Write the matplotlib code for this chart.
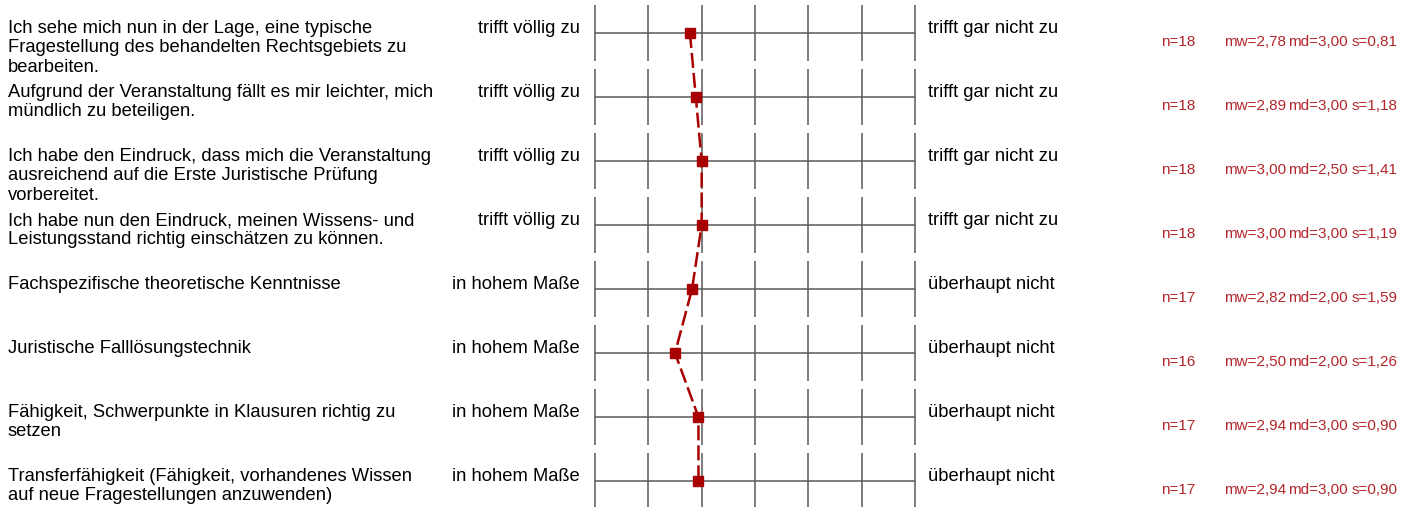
import numpy as np
import matplotlib.pyplot as plt

plt.rcParams['font.family'] = ['Liberation Sans', 'DejaVu Sans']

# Items (left labels)
labels = [
    "Ich sehe mich nun in der Lage, eine typische\nFragestellung des behandelten Rechtsgebiets zu\nbearbeiten.",
    "Aufgrund der Veranstaltung fällt es mir leichter, mich\nmündlich zu beteiligen.",
    "Ich habe den Eindruck, dass mich die Veranstaltung\nausreichend auf die Erste Juristische Prüfung\nvorbereitet.",
    "Ich habe nun den Eindruck, meinen Wissens- und\nLeistungsstand richtig einschätzen zu können.",
    "Fachspezifische theoretische Kenntnisse",
    "Juristische Falllösungstechnik",
    "Fähigkeit, Schwerpunkte in Klausuren richtig zu\nsetzen",
    "Transferfähigkeit (Fähigkeit, vorhandenes Wissen\nauf neue Fragestellungen anzuwenden)",
]
left_anchor = ["trifft völlig zu"] * 4 + ["in hohem Maße"] * 4
right_anchor = ["trifft gar nicht zu"] * 4 + ["überhaupt nicht"] * 4

n_values = [18, 18, 18, 18, 17, 16, 17, 17]
mw = [2.78, 2.89, 3.00, 3.00, 2.82, 2.50, 2.94, 2.94]
md = [3.00, 3.00, 2.50, 3.00, 2.00, 2.00, 3.00, 3.00]
sd = [0.81, 1.18, 1.41, 1.19, 1.59, 1.26, 0.90, 0.90]
scale = [1, 2, 3, 4, 5, 6, 7]

W, H = 1418, 507
red = '#a80000'
stat_red = '#b3262a'
grid_col = '#585858'

fig = plt.figure(figsize=(W / 100, H / 100), dpi=100)

# text layer in pixel coordinates
ax = fig.add_axes([0, 0, 1, 1])
ax.set_xlim(0, W)
ax.set_ylim(H, 0)
ax.axis('off')

# grid layer: x is the answer scale 1..7
gx0, gx1 = 595, 915
axg = fig.add_axes([gx0 / W, 0, (gx1 - gx0) / W, 1])
axg.set_xlim(1, 7)
axg.set_ylim(H, 0)
axg.axis('off')

row_y = 33 + 64 * np.arange(len(labels))
fs = 13.2


def fmt(v):
    return f"{v:.2f}".replace('.', ',')


for i, y in enumerate(row_y):
    axg.hlines(y, scale[0], scale[-1], color=grid_col, lw=1.1, clip_on=False)
    axg.vlines(scale, y - 28, y + 28, color=grid_col, lw=1.1, clip_on=False)

    ax.text(8, y - 13, labels[i], ha='left', va='top', fontsize=fs,
            linespacing=1.19, color='black')
    ax.text(580, y, left_anchor[i], ha='right', va='baseline', fontsize=fs)
    ax.text(928, y, right_anchor[i], ha='left', va='baseline', fontsize=fs)

    ax.text(1161, y + 13, f"n={n_values[i]}", ha='left', va='baseline',
            fontsize=11, color=stat_red)
    ax.text(1224, y + 13, f"mw={fmt(mw[i])}", ha='left', va='baseline',
            fontsize=11, color=stat_red)
    ax.text(1288, y + 13, f"md={fmt(md[i])}", ha='left', va='baseline',
            fontsize=11, color=stat_red)
    ax.text(1352, y + 13, f"s={fmt(sd[i])}", ha='left', va='baseline',
            fontsize=11, color=stat_red)

# profile line
axg.plot(mw, row_y, color=red, lw=1.8, dashes=(6, 2), clip_on=False)
axg.plot(mw, row_y, ls='none', marker='s', ms=7, color=red, clip_on=False)

fig.savefig('out.png', dpi=100)
